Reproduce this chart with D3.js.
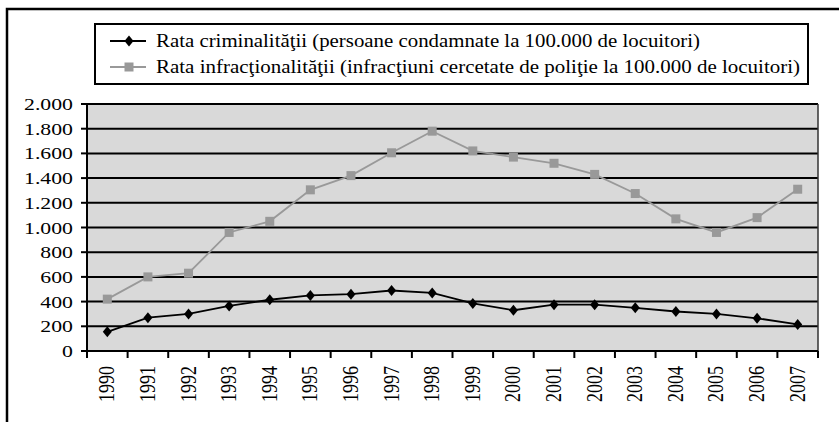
<!DOCTYPE html>
<html>
<head>
<meta charset="utf-8">
<script src="https://cdn.jsdelivr.net/npm/d3@7"></script>
<style>
  body { margin: 0; background: #fff; }
  svg text { font-family: 'Liberation Serif', 'Times New Roman', Times, 'DejaVu Serif', serif; fill: #000; }
</style>
</head>
<body>
<div id="chart"></div>
<script>
var years = ["1990","1991","1992","1993","1994","1995","1996","1997","1998",
             "1999","2000","2001","2002","2003","2004","2005","2006","2007"];
// persoane condamnate la 100.000 de locuitori
var criminalitate = [155, 270, 300, 365, 415, 450, 460, 490, 470,
                     385, 330, 375, 375, 350, 320, 300, 265, 215];
// infractiuni cercetate de politie la 100.000 de locuitori
var infractionalitate = [420, 600, 630, 960, 1050, 1305, 1420, 1605, 1780,
                         1620, 1570, 1520, 1430, 1275, 1070, 960, 1080, 1310];
var yTicks = [0, 200, 400, 600, 800, 1000, 1200, 1400, 1600, 1800, 2000];
var legendLabels = [
  "Rata criminalităţii (persoane condamnate la 100.000 de locuitori)",
  "Rata infracţionalităţii (infracţiuni cercetate de poliţie la 100.000 de locuitori)"
];

var width = 839, height = 422;
var stretch = 1.28; // axis labels in the source are drawn wider than tall
var fs = 17;

var svg = d3.select("#chart").append("svg")
    .attr("width", width)
    .attr("height", height)
    .attr("font-family", "'Liberation Serif', 'Times New Roman', Times, serif");

svg.append("rect")
    .attr("width", width).attr("height", height)
    .attr("fill", "#fff");

// outer frame (right and bottom edges fall off the picture)
svg.append("rect")
    .attr("x", 7).attr("y", 9)
    .attr("width", 850).attr("height", 430)
    .attr("fill", "none")
    .attr("stroke", "#000")
    .attr("stroke-width", 2.5);

var plot = {left: 87, right: 818, top: 104, bottom: 351};

var x = d3.scaleBand().domain(years).range([plot.left, plot.right]);
var y = d3.scaleLinear().domain([0, 2000]).range([plot.bottom, plot.top]);

svg.append("rect")
    .attr("x", plot.left).attr("y", plot.top)
    .attr("width", plot.right - plot.left)
    .attr("height", plot.bottom - plot.top)
    .attr("fill", "#d9d9d9");

// gridlines
svg.append("g").selectAll("line")
    .data(yTicks.slice(1))
    .join("line")
    .attr("x1", plot.left).attr("x2", plot.right)
    .attr("y1", d => y(d)).attr("y2", d => y(d))
    .attr("stroke", "#000")
    .attr("stroke-width", 2);

// right border of plot
svg.append("line")
    .attr("x1", plot.right).attr("x2", plot.right)
    .attr("y1", plot.top).attr("y2", plot.bottom)
    .attr("stroke", "#333").attr("stroke-width", 1.5);

// y axis
var yAxis = svg.append("g");
yAxis.append("line")
    .attr("x1", plot.left).attr("x2", plot.left)
    .attr("y1", plot.top).attr("y2", plot.bottom)
    .attr("stroke", "#000").attr("stroke-width", 2);
yAxis.selectAll(".tk")
    .data(yTicks)
    .join("line")
    .attr("x1", plot.left - 6).attr("x2", plot.left)
    .attr("y1", d => y(d)).attr("y2", d => y(d))
    .attr("stroke", "#000").attr("stroke-width", 2);
var fmt = d3.formatLocale({decimal: ",", thousands: ".", grouping: [3], currency: ["", ""]}).format(",d");
yAxis.selectAll("text")
    .data(yTicks)
    .join("text")
    .attr("transform", d => "translate(" + (plot.left - 14) + "," + (y(d) + 6) + ") scale(" + stretch + ",1)")
    .attr("text-anchor", "end")
    .attr("font-size", fs)
    .text(d => fmt(d));

// x axis
var xAxis = svg.append("g");
xAxis.append("line")
    .attr("x1", plot.left).attr("x2", plot.right)
    .attr("y1", plot.bottom).attr("y2", plot.bottom)
    .attr("stroke", "#000").attr("stroke-width", 2);
var bounds = years.map(d => x(d)).concat([plot.right]);
xAxis.selectAll(".tk")
    .data(bounds)
    .join("line")
    .attr("x1", d => d).attr("x2", d => d)
    .attr("y1", plot.bottom).attr("y2", plot.bottom + 7)
    .attr("stroke", "#000").attr("stroke-width", 2);
xAxis.selectAll("text")
    .data(years)
    .join("text")
    .attr("transform", d => "translate(" + (x(d) + x.bandwidth() / 2 + 7) + "," + (plot.bottom + 15) + ") scale(" + stretch + ",1) rotate(-90)")
    .attr("text-anchor", "end")
    .attr("font-size", 18)
    .text(d => d);

var line = d3.line()
    .x((d, i) => x(years[i]) + x.bandwidth() / 2)
    .y(d => y(d));

// gray series
svg.append("path")
    .attr("d", line(infractionalitate))
    .attr("fill", "none")
    .attr("stroke", "#999")
    .attr("stroke-width", 1.8);
svg.append("g").selectAll("rect")
    .data(infractionalitate)
    .join("rect")
    .attr("x", (d, i) => x(years[i]) + x.bandwidth() / 2 - 4.5)
    .attr("y", d => y(d) - 4.5)
    .attr("width", 9).attr("height", 9)
    .attr("fill", "#999");

// black series
svg.append("path")
    .attr("d", line(criminalitate))
    .attr("fill", "none")
    .attr("stroke", "#000")
    .attr("stroke-width", 1.8);
var diamond = "M0,-5.5L4.5,0L0,5.5L-4.5,0Z";
svg.append("g").selectAll("path")
    .data(criminalitate)
    .join("path")
    .attr("transform", (d, i) => "translate(" + (x(years[i]) + x.bandwidth() / 2) + "," + y(d) + ")")
    .attr("d", diamond)
    .attr("fill", "#000");

// legend
var legend = svg.append("g");
legend.append("rect")
    .attr("x", 95).attr("y", 24)
    .attr("width", 713).attr("height", 60)
    .attr("fill", "#fff")
    .attr("stroke", "#000")
    .attr("stroke-width", 2);
var rowY = [41, 67];
var rowWidth = [544, 644];
var colors = ["#000", "#999"];
legend.selectAll(".ln")
    .data(rowY)
    .join("line")
    .attr("x1", 110).attr("x2", 146)
    .attr("y1", d => d).attr("y2", d => d)
    .attr("stroke", (d, i) => colors[i])
    .attr("stroke-width", 1.8);
legend.append("path")
    .attr("transform", "translate(129," + rowY[0] + ")")
    .attr("d", diamond)
    .attr("fill", "#000");
legend.append("rect")
    .attr("x", 129 - 4.5).attr("y", rowY[1] - 4.5)
    .attr("width", 9).attr("height", 9)
    .attr("fill", "#999");
legend.selectAll("text")
    .data(legendLabels)
    .join("text")
    .attr("x", 156)
    .attr("y", (d, i) => rowY[i] + 6)
    .attr("font-size", 19)
    .attr("textLength", (d, i) => rowWidth[i])
    .attr("lengthAdjust", "spacingAndGlyphs")
    .text(d => d);
</script>
</body>
</html>
